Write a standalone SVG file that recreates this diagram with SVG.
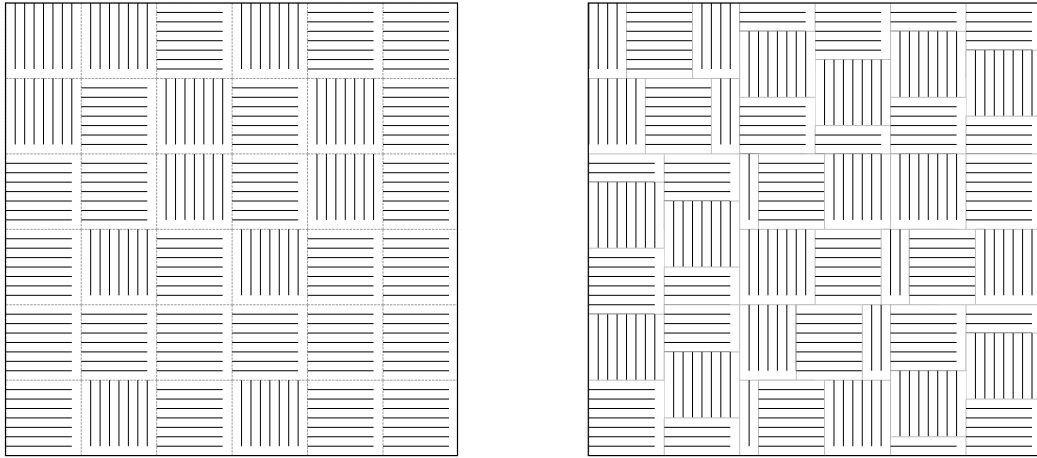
<svg xmlns="http://www.w3.org/2000/svg" width="1037" height="458" viewBox="0 0 1037 458">
<style>
.ln{stroke:#000;stroke-width:1;fill:none}
.eg{stroke:#bdbdbd;stroke-width:1;fill:none}
.egd{stroke:#9a9a9a;stroke-width:1;stroke-dasharray:2.5 1;fill:none}
.bd{stroke:#000;stroke-width:1.2;fill:none}
</style>
<defs>
<clipPath id="clipR"><rect x="588.3" y="3" width="453" height="452.6"/></clipPath>
<clipPath id="clipL"><rect x="5.5" y="3" width="452" height="452.6"/></clipPath>
<path id="hl" class="ln" d="M0,9.43H66.01M0,18.86H66.01M0,28.29H66.01M0,37.72H66.01M0,47.15H66.01M0,56.58H66.01M0,66.01H66.01"/>
<path id="vl" class="ln" d="M9.43,0V66.01M18.86,0V66.01M28.29,0V66.01M37.72,0V66.01M47.15,0V66.01M56.58,0V66.01M66.01,0V66.01"/>
<g id="rh"><rect width="75.44" height="75.44" fill="#fff"/><path class="eg" d="M0,0H75.44M0,0V75.44"/><use href="#hl"/></g>
<g id="rv"><rect width="75.44" height="75.44" fill="#fff"/><path class="eg" d="M0,0H75.44M0,0V75.44"/><use href="#vl"/></g>
<g id="lh"><rect width="75.44" height="75.44" fill="#fff"/><path class="egd" d="M0,0H75.44M0,0V75.44"/><use href="#hl"/></g>
<g id="lv"><rect width="75.44" height="75.44" fill="#fff"/><path class="egd" d="M0,0H75.44M0,0V75.44"/><use href="#vl"/></g>
</defs>
<rect width="1037" height="458" fill="#fff"/>
<g id="left-panel" clip-path="url(#clipL)">
<use href="#lv" x="5.8" y="3"/><use href="#lv" x="81.24" y="3"/><use href="#lh" x="156.68" y="3"/><use href="#lv" x="232.12" y="3"/><use href="#lh" x="307.56" y="3"/><use href="#lh" x="383" y="3"/>
<use href="#lv" x="5.8" y="78.44"/><use href="#lh" x="81.24" y="78.44"/><use href="#lv" x="156.68" y="78.44"/><use href="#lh" x="232.12" y="78.44"/><use href="#lv" x="307.56" y="78.44"/><use href="#lh" x="383" y="78.44"/>
<use href="#lh" x="5.8" y="153.88"/><use href="#lh" x="81.24" y="153.88"/><use href="#lv" x="156.68" y="153.88"/><use href="#lh" x="232.12" y="153.88"/><use href="#lv" x="307.56" y="153.88"/><use href="#lh" x="383" y="153.88"/>
<use href="#lh" x="5.8" y="229.32"/><use href="#lv" x="81.24" y="229.32"/><use href="#lh" x="156.68" y="229.32"/><use href="#lv" x="232.12" y="229.32"/><use href="#lh" x="307.56" y="229.32"/><use href="#lh" x="383" y="229.32"/>
<use href="#lh" x="5.8" y="304.76"/><use href="#lh" x="81.24" y="304.76"/><use href="#lh" x="156.68" y="304.76"/><use href="#lh" x="232.12" y="304.76"/><use href="#lh" x="307.56" y="304.76"/><use href="#lh" x="383" y="304.76"/>
<use href="#lh" x="5.8" y="380.2"/><use href="#lv" x="81.24" y="380.2"/><use href="#lh" x="156.68" y="380.2"/><use href="#lv" x="232.12" y="380.2"/><use href="#lh" x="307.56" y="380.2"/><use href="#lh" x="383" y="380.2"/>
</g>
<rect id="left-border" class="bd" x="5.5" y="3" width="452" height="452.6"/>
<g id="right-panel" clip-path="url(#clipR)">
<use id="tA" href="#rv" x="551.08" y="3"/>
<use id="tB" href="#rh" x="626.52" y="3"/>
<use id="tC" href="#rv" x="692.53" y="3"/>
<use id="tD" href="#rh" x="739.68" y="3"/>
<use id="tJ" href="#rh" x="815.12" y="3"/>
<use id="tK" href="#rv" x="815.12" y="59.58"/>
<use id="tM" href="#rh" x="890.56" y="3"/>
<use id="tN" href="#rv" x="890.56" y="31.29"/>
<use id="tO1" href="#rh" x="966" y="3"/>
<use id="tO2" href="#rv" x="966" y="50.15"/>
<use id="tE" href="#rv" x="569.94" y="78.44"/>
<use id="tF" href="#rh" x="645.38" y="78.44"/>
<use id="tG" href="#rv" x="711.39" y="78.44"/>
<use id="tH" href="#rv" x="739.68" y="31.29"/>
<use id="tI2" href="#rh" x="739.68" y="97.3"/>
<use id="tL2" href="#rh" x="815.12" y="125.59"/>
<use id="tN2" href="#rh" x="890.56" y="97.3"/>
<use id="tO3" href="#rh" x="966" y="116.16"/>
<use id="tP" href="#rh" x="588.8" y="153.88"/>
<use id="tQ" href="#rv" x="588.8" y="182.17"/>
<use id="tR0" href="#rh" x="664.24" y="153.88"/>
<use id="tR" href="#rv" x="664.24" y="201.03"/>
<use id="tW" href="#rv" x="739.68" y="153.88"/>
<use id="tU" href="#rh" x="758.54" y="153.88"/>
<use id="tY" href="#rv" x="824.55" y="153.88"/>
<use id="tZ" href="#rv" x="890.56" y="153.88"/>
<use id="tO4" href="#rh" x="966" y="153.88"/>
<use id="tT" href="#rh" x="588.8" y="248.18"/>
<use id="tS" href="#rh" x="664.24" y="267.04"/>
<use id="tX" href="#rv" x="739.68" y="229.32"/>
<use id="tAA" href="#rh" x="815.12" y="229.32"/>
<use id="tVV" href="#rv" x="881.13" y="229.32"/>
<use id="tBB" href="#rh" x="909.42" y="229.32"/>
<use id="tNN" href="#rv" x="975.43" y="229.32"/>
<use id="tDD" href="#rv" x="588.8" y="314.19"/>
<use id="tFF" href="#rh" x="664.24" y="304.76"/>
<use id="tGG" href="#rv" x="664.24" y="351.91"/>
<use id="tII" href="#rv" x="739.68" y="304.76"/>
<use id="tJJ" href="#rh" x="796.26" y="304.76"/>
<use id="tKK" href="#rv" x="862.27" y="304.76"/>
<use id="tTT" href="#rh" x="890.56" y="304.76"/>
<use id="tOO" href="#rh" x="966" y="304.76"/>
<use id="tMM" href="#rv" x="966" y="333.05"/>
<use id="tEE" href="#rh" x="588.8" y="380.2"/>
<use id="tHH" href="#rh" x="664.24" y="417.92"/>
<use id="tRR" href="#rv" x="739.68" y="380.2"/>
<use id="tQQ" href="#rh" x="758.54" y="380.2"/>
<use id="tSS" href="#rv" x="824.55" y="380.2"/>
<use id="tLL" href="#rv" x="890.56" y="370.77"/>
<use id="tL3" href="#rh" x="890.56" y="436.78"/>
<use id="tPP" href="#rh" x="966" y="399.06"/>
</g>
<rect id="right-border" class="bd" x="588.3" y="3" width="453" height="452.6"/>
</svg>
